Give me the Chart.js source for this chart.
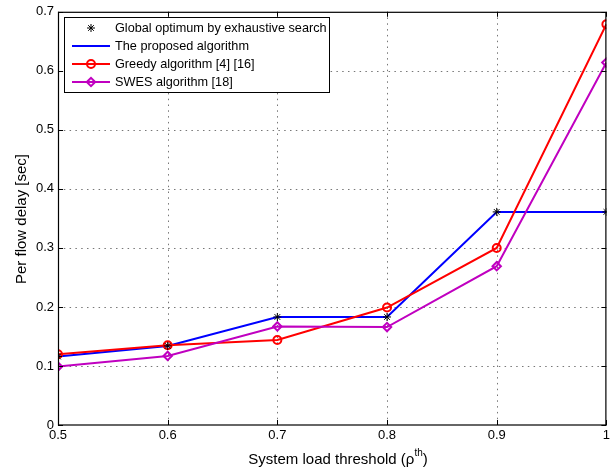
<!DOCTYPE html>
<html><head><meta charset="utf-8">
<script src="https://cdn.jsdelivr.net/npm/chart.js@4"></script>
<style>html,body{margin:0;padding:0;background:#fff;}#wrap{width:613px;height:473px;}</style>
</head><body><div id="wrap"><canvas id="c" width="613" height="473"></canvas></div>
<script>
const xValues = [0.5, 0.6, 0.7, 0.8, 0.9, 1.0];
const optimum = [0.116, 0.134, 0.183, 0.183, 0.361, 0.361];
const proposed = [0.116, 0.134, 0.183, 0.183, 0.361, 0.361];
const greedy = [0.120, 0.135, 0.144, 0.199, 0.300, 0.679];
const swes = [0.099, 0.117, 0.167, 0.166, 0.269, 0.614];
const xTicks = [0.5, 0.6, 0.7, 0.8, 0.9, 1];
const yTicks = [0, 0.1, 0.2, 0.3, 0.4, 0.5, 0.6, 0.7];
const seriesNames = ['Global optimum by exhaustive search', 'The proposed algorithm', 'Greedy algorithm [4] [16]', 'SWES algorithm [18]'];
const xTitle = 'System load threshold (\u03c1';
const xTitleSup = 'th';
const yTitle = 'Per flow delay [sec]';

const pts = arr => arr.map((v, i) => ({x: xValues[i], y: v}));
const FONT = '"Liberation Sans", Arial, sans-serif';

const matlabPlugin = {
  id: 'matlab',
  beforeDatasetsDraw(chart) {
    const {ctx, chartArea: a, scales: {x, y}} = chart;
    ctx.save();
    ctx.strokeStyle = '#777'; ctx.lineWidth = 1; ctx.setLineDash([1.5, 4.3]);
    ctx.beginPath();
    xTicks.slice(1, -1).forEach(v => {
      const px = Math.round(x.getPixelForValue(v)) + 0.5;
      ctx.moveTo(px, a.bottom); ctx.lineTo(px, a.top);
    });
    yTicks.slice(1, -1).forEach(v => {
      const py = Math.round(y.getPixelForValue(v)) + 0.5;
      ctx.moveTo(a.left, py); ctx.lineTo(a.right, py);
    });
    ctx.stroke();
    ctx.restore();
  },
  afterDatasetsDraw(chart) {
    const {ctx, chartArea: a, scales: {x, y}} = chart;
    ctx.save();
    ctx.strokeStyle = '#000'; ctx.lineWidth = 1.2; ctx.setLineDash([]);
    ctx.strokeRect(a.left + 0.5, a.top + 0.5, a.right - a.left - 1, a.bottom - a.top - 0.5);
    ctx.lineWidth = 1;
    ctx.beginPath();
    xTicks.forEach(v => {
      const px = Math.round(x.getPixelForValue(v)) + 0.5;
      ctx.moveTo(px, a.bottom); ctx.lineTo(px, a.bottom - 5);
      ctx.moveTo(px, a.top); ctx.lineTo(px, a.top + 5);
    });
    yTicks.forEach(v => {
      const py = Math.round(y.getPixelForValue(v)) + 0.5;
      ctx.moveTo(a.left, py); ctx.lineTo(a.left + 5, py);
      ctx.moveTo(a.right, py); ctx.lineTo(a.right - 5, py);
    });
    ctx.stroke();
    // x title with superscript
    ctx.fillStyle = '#000';
    ctx.font = '15px ' + FONT; const w1 = ctx.measureText(xTitle).width;
    ctx.font = '10px ' + FONT; const w2 = ctx.measureText(xTitleSup).width;
    ctx.font = '15px ' + FONT; const w3 = ctx.measureText(')').width;
    const total = w1 + w2 + w3;
    let sx = 338 - total / 2;
    const by = 464;
    ctx.textBaseline = 'alphabetic'; ctx.textAlign = 'left';
    ctx.fillText(xTitle, sx, by);
    ctx.font = '10px ' + FONT; ctx.fillText(xTitleSup, sx + w1, by - 8);
    ctx.font = '15px ' + FONT; ctx.fillText(')', sx + w1 + w2, by);
    // y title
    ctx.save();
    ctx.translate(22, 219); ctx.rotate(-Math.PI / 2);
    ctx.font = '15px ' + FONT; ctx.textAlign = 'center'; ctx.textBaseline = 'middle';
    ctx.fillText(yTitle, 0, 0);
    ctx.restore();
    // legend
    const L = 64, T = 17, R = 329, B = 92;
    ctx.fillStyle = '#fff'; ctx.fillRect(L, T, R - L, B - T);
    ctx.strokeStyle = '#000'; ctx.lineWidth = 1;
    ctx.strokeRect(L + 0.5, T + 0.5, R - L, B - T);
    const rows = [28, 46, 64, 82];
    const ds = chart.data.datasets;
    const legendDs = [ds[0], ds[3], ds[2], ds[1]];
    rows.forEach((ry, i) => {
      const d = legendDs[i];
      if (i > 0) {
        ctx.strokeStyle = d.borderColor; ctx.lineWidth = 2;
        ctx.beginPath(); ctx.moveTo(72, ry); ctx.lineTo(110, ry); ctx.stroke();
      }
      if (d.pointStyle && d.pointRadius > 0) {
        ctx.strokeStyle = d.pointBorderColor; ctx.lineWidth = d.pointBorderWidth || 1;
        ctx.fillStyle = d.pointBackgroundColor;
        Chart.helpers.drawPoint(ctx, {pointStyle: d.pointStyle, radius: d.pointRadius, borderWidth: d.pointBorderWidth || 1, rotation: 0}, 91, ry);
      }
      ctx.fillStyle = '#000';
      ctx.font = '12.7px ' + FONT; ctx.textBaseline = 'middle'; ctx.textAlign = 'left';
      ctx.fillText(seriesNames[i], 115, ry);
    });
    ctx.restore();
  }
};

new Chart(document.getElementById('c'), {
  type: 'line',
  data: {
    datasets: [
      {label: seriesNames[0], data: pts(optimum), showLine: false, pointStyle: 'star', pointRadius: 4, pointBorderColor: '#000', pointBackgroundColor: '#000', borderColor: '#000', pointBorderWidth: 1, order: 0},
      {label: seriesNames[3], data: pts(swes), borderColor: '#c000c0', borderWidth: 2, pointStyle: 'rectRot', pointRadius: 4.2, pointBorderColor: '#c000c0', pointBackgroundColor: 'rgba(0,0,0,0)', pointBorderWidth: 2, fill: false, tension: 0, order: 1},
      {label: seriesNames[2], data: pts(greedy), borderColor: '#ff0000', borderWidth: 2, pointStyle: 'circle', pointRadius: 4, pointBorderColor: '#ff0000', pointBackgroundColor: 'rgba(0,0,0,0)', pointBorderWidth: 2, fill: false, tension: 0, order: 2},
      {label: seriesNames[1], data: pts(proposed), borderColor: '#0000ff', borderWidth: 2, pointRadius: 0, fill: false, tension: 0, order: 3}
    ]
  },
  options: {
    responsive: false, animation: false, devicePixelRatio: 1,
    layout: {padding: {top: 11, right: 4, left: 0, bottom: 0}},
    plugins: {legend: {display: false}, tooltip: {enabled: false}},
    elements: {point: {hoverRadius: 4}},
    scales: {
      x: {
        type: 'linear', min: 0.5, max: 1,
        afterBuildTicks: s => { s.ticks = xTicks.map(v => ({value: v})); },
        afterFit: s => { s.height = 48; },
        grid: {display: false, drawTicks: false},
        border: {display: false},
        ticks: {color: '#000', font: {family: FONT, size: 13}, padding: 3, maxRotation: 0, callback: v => String(v)}
      },
      y: {
        type: 'linear', min: 0, max: 0.7,
        afterBuildTicks: s => { s.ticks = yTicks.map(v => ({value: v})); },
        afterFit: s => { s.width = 58; },
        grid: {display: false, drawTicks: false},
        border: {display: false},
        ticks: {color: '#000', font: {family: FONT, size: 13}, padding: 4, callback: v => String(v)}
      }
    }
  },
  plugins: [matlabPlugin]
});
</script></body></html>
